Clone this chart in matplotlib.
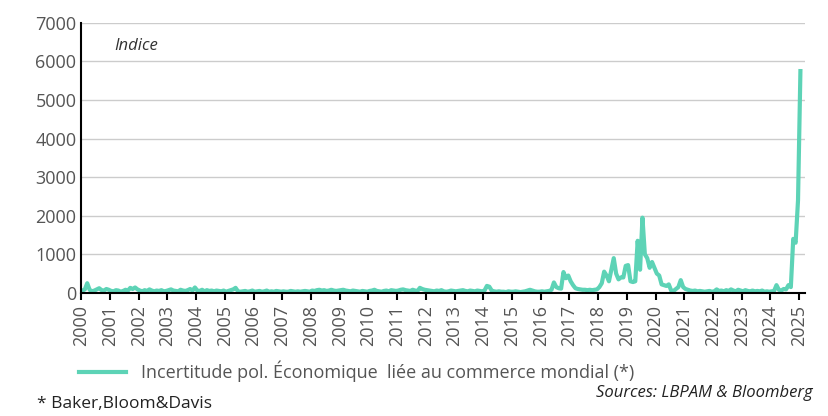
import matplotlib
matplotlib.use("Agg")
import matplotlib.pyplot as plt
import numpy as np

start_year = 2000
# monthly values of the index, year by year
y2000 = [60, 90, 250, 80, 40, 60, 90, 120, 70, 60, 100, 80]
y2001 = [50, 40, 70, 60, 30, 50, 80, 60, 130, 100, 140, 90]
y2002 = [60, 40, 70, 50, 90, 60, 40, 60, 50, 70, 40, 50]
y2003 = [70, 90, 60, 50, 40, 80, 60, 50, 70, 100, 60, 140]
y2004 = [60, 50, 80, 40, 70, 50, 60, 40, 60, 50, 40, 60]
y2005 = [30, 50, 70, 90, 130, 40, 30, 40, 50, 30, 40, 60]
y2006 = [30, 40, 50, 30, 40, 60, 30, 40, 30, 50, 40, 30]
y2007 = [40, 30, 30, 50, 40, 30, 40, 30, 40, 50, 40, 30]
y2008 = [60, 50, 70, 80, 60, 70, 50, 60, 80, 60, 50, 60]
y2009 = [70, 80, 60, 50, 40, 60, 50, 40, 30, 50, 40, 30]
y2010 = [50, 60, 80, 50, 40, 30, 50, 60, 40, 70, 60, 50]
y2011 = [60, 80, 90, 70, 60, 50, 80, 60, 50, 130, 100, 80]
y2012 = [70, 60, 50, 40, 60, 50, 70, 40, 30, 40, 60, 50]
y2013 = [40, 50, 60, 70, 50, 40, 60, 50, 40, 60, 50, 40]
y2014 = [60, 180, 160, 60, 40, 30, 40, 30, 30, 20, 40, 30]
y2015 = [30, 40, 30, 20, 30, 40, 60, 80, 60, 40, 30, 30]
y2016 = [40, 30, 40, 50, 80, 270, 150, 120, 110, 540, 380, 450]
y2017 = [300, 200, 120, 100, 90, 80, 80, 70, 80, 70, 80, 90]
y2018 = [150, 250, 550, 450, 300, 600, 900, 500, 350, 400, 400, 700]
y2019 = [720, 300, 280, 300, 1350, 600, 1950, 1000, 900, 650, 800, 650]
y2020 = [500, 450, 220, 200, 180, 220, 60, 50, 100, 150, 330, 150]
y2021 = [100, 80, 60, 50, 60, 40, 50, 40, 30, 40, 50, 30]
y2022 = [40, 90, 50, 60, 40, 70, 50, 90, 60, 40, 80, 60]
y2023 = [40, 70, 50, 40, 60, 40, 50, 40, 60, 30, 40, 30]
y2024 = [40, 50, 200, 80, 60, 100, 90, 200, 150, 1400, 1300, 2400]
y2025 = [5750]

series = (y2000 + y2001 + y2002 + y2003 + y2004 + y2005 + y2006 + y2007 + y2008
          + y2009 + y2010 + y2011 + y2012 + y2013 + y2014 + y2015 + y2016 + y2017
          + y2018 + y2019 + y2020 + y2021 + y2022 + y2023 + y2024 + y2025)
years = list(range(2000, 2026))
label = "Incertitude pol. Économique  liée au commerce mondial (*)"

plt.rcParams['font.family'] = ['Open Sans', 'DejaVu Sans']
txt = '#555555'
fig = plt.figure(figsize=(8.29, 4.16), dpi=100)
ax = fig.add_axes([0.098, 0.296, 0.873, 0.649])
x = start_year + np.arange(len(series)) / 12.0 + 1/24
ax.plot(x, series, color='#5DD3B6', lw=3, label=label, solid_joinstyle='round')
ax.set_ylim(0, 7000)
ax.set_xlim(2000, 2025.2)
ax.set_yticks(range(0, 7001, 1000))
ax.set_xticks(years)
ax.set_xticklabels([str(y) for y in years], rotation=90, fontsize=13, color=txt)
ax.tick_params(axis='y', labelsize=13, colors=txt, length=0)
ax.tick_params(axis='x', length=5, width=1.5, color='black')
ax.grid(axis='y', color='#cccccc', lw=1)
ax.set_axisbelow(True)
for s in ['top', 'right']:
    ax.spines[s].set_visible(False)
ax.spines['left'].set_linewidth(1.5)
ax.spines['bottom'].set_linewidth(1.5)
ax.text(0.045, 0.9, 'Indice', transform=ax.transAxes, fontsize=12, style='italic', color='#333333')
ax.legend(loc='upper left', bbox_to_anchor=(-0.025, -0.19), frameon=False, fontsize=13,
          handlelength=2.6, labelcolor=txt)
fig.text(0.045, 0.02, '* Baker,Bloom&Davis', fontsize=12.5, color='#222222')
fig.text(0.98, 0.045, 'Sources: LBPAM & Bloomberg', fontsize=12, style='italic', color='#222222', ha='right')
fig.savefig('out.png', dpi=100)
